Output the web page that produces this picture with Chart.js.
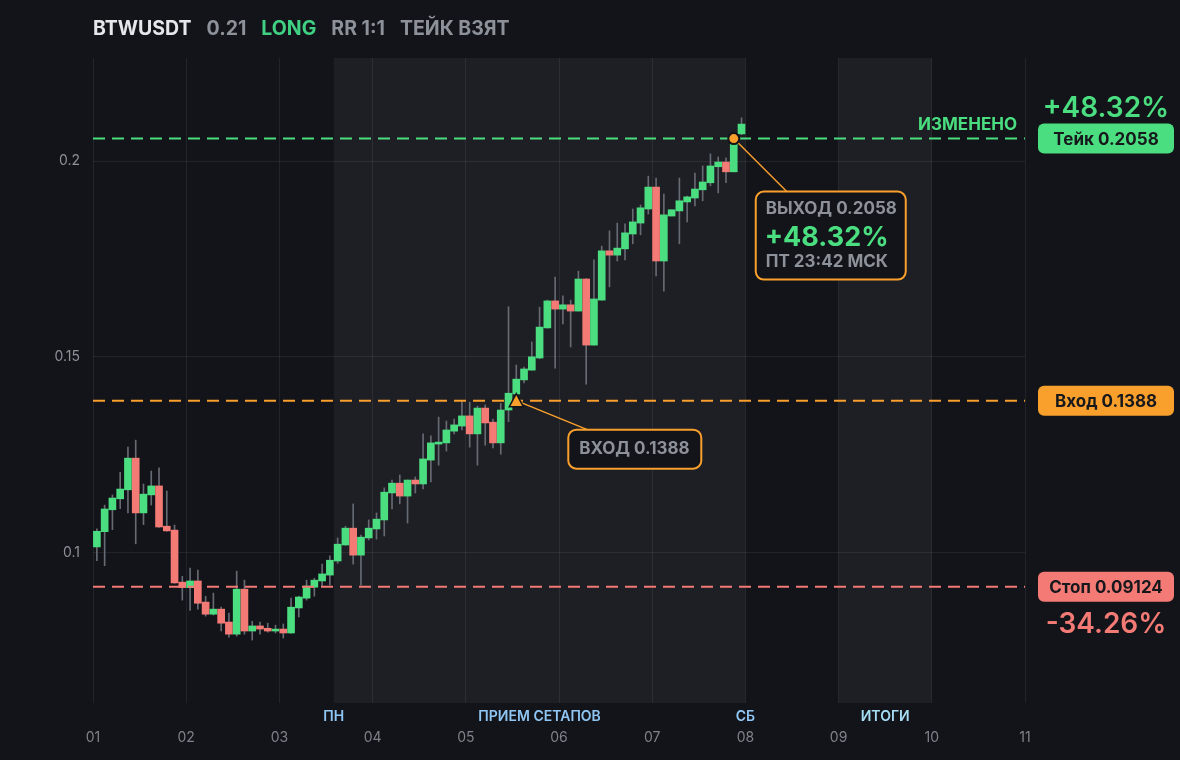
<!DOCTYPE html>
<html lang="ru">
<head>
<meta charset="UTF-8">
<title>BTWUSDT</title>
<script src="https://cdn.jsdelivr.net/npm/chart.js"></script>
<style>
  html, body { margin: 0; padding: 0; background: #131419; }
  canvas { display: block; }
</style>
</head>
<body>
<canvas id="chart" width="1180" height="760"></canvas>
<script>
// 2h candles, 12 per day, starting at day 01
const openP  = [0.1014,0.1053,0.1109,0.1137,0.1160,0.1241,0.1101,0.1147,0.1170,0.1067,0.1057,0.0924,
                0.0910,0.0927,0.0873,0.0842,0.0855,0.0822,0.0791,0.0906,0.0799,0.0812,0.0806,0.0799,
                0.0804,0.0794,0.0858,0.0883,0.0911,0.0927,0.0942,0.0978,0.1019,0.1062,0.0993,0.1037,
                0.1060,0.1083,0.1152,0.1177,0.1144,0.1185,0.1175,0.1236,0.1277,0.1280,0.1310,0.1323,
                0.1349,0.1303,0.1369,0.1333,0.1280,0.1364,0.1405,0.1441,0.1466,0.1497,0.1574,0.1643,
                0.1622,0.1633,0.1617,0.1699,0.1530,0.1645,0.1771,0.1760,0.1776,0.1814,0.1842,0.1878,
                0.1934,0.1745,0.1860,0.1873,0.1896,0.1906,0.1927,0.1945,0.1986,0.1998,0.1973,0.2070];
const highP  = [0.1060,0.1121,0.1147,0.1205,0.1269,0.1287,0.1175,0.1208,0.1216,0.1157,0.1070,0.0939,
                0.0960,0.0955,0.0888,0.0896,0.0860,0.0845,0.0952,0.0929,0.0824,0.0822,0.0819,0.0814,
                0.0817,0.0883,0.0888,0.0929,0.0934,0.0970,0.0991,0.1037,0.1067,0.1124,0.1044,0.1083,
                0.1101,0.1165,0.1185,0.1198,0.1185,0.1193,0.1303,0.1298,0.1346,0.1336,0.1341,0.1387,
                0.1384,0.1374,0.1377,0.1341,0.1381,0.1628,0.1479,0.1474,0.1538,0.1627,0.1645,0.1704,
                0.1656,0.1645,0.1719,0.1700,0.1748,0.1783,0.1822,0.1842,0.1840,0.1878,0.1888,0.1962,
                0.1957,0.1916,0.1876,0.1957,0.1911,0.1970,0.1988,0.2019,0.2011,0.2009,0.2068,0.2111];
const lowP   = [0.0979,0.0966,0.1058,0.1112,0.1101,0.1022,0.1071,0.1121,0.1064,0.1054,0.0921,0.0878,
                0.0852,0.0855,0.0837,0.0840,0.0799,0.0783,0.0786,0.0791,0.0776,0.0791,0.0796,0.0794,
                0.0781,0.0793,0.0835,0.0878,0.0888,0.0913,0.0916,0.0972,0.1018,0.0970,0.0916,0.1032,
                0.1034,0.1042,0.1111,0.1124,0.1075,0.1152,0.1162,0.1180,0.1223,0.1259,0.1303,0.1313,
                0.1269,0.1223,0.1274,0.1267,0.1251,0.1334,0.1405,0.1433,0.1466,0.1495,0.1573,0.1471,
                0.1584,0.1525,0.1617,0.1430,0.1530,0.1645,0.1679,0.1745,0.1748,0.1789,0.1812,0.1865,
                0.1707,0.1668,0.1860,0.1789,0.1845,0.1886,0.1899,0.1937,0.1919,0.1945,0.1973,0.2068];
const closeP = [0.1054,0.1111,0.1139,0.1162,0.1241,0.1101,0.1149,0.1170,0.1065,0.1055,0.0922,0.0910,
                0.0927,0.0870,0.0842,0.0855,0.0819,0.0791,0.0906,0.0799,0.0812,0.0804,0.0799,0.0804,
                0.0794,0.0860,0.0886,0.0914,0.0929,0.0945,0.0980,0.1021,0.1062,0.0993,0.1039,0.1062,
                0.1085,0.1154,0.1177,0.1144,0.1185,0.1175,0.1239,0.1280,0.1282,0.1313,0.1326,0.1349,
                0.1303,0.1369,0.1331,0.1280,0.1364,0.1407,0.1443,0.1469,0.1500,0.1576,0.1643,0.1622,
                0.1633,0.1617,0.1699,0.1530,0.1648,0.1771,0.1760,0.1778,0.1817,0.1845,0.1881,0.1934,
                0.1745,0.1863,0.1876,0.1899,0.1909,0.1929,0.1947,0.1988,0.1998,0.1973,0.2044,0.2095];

const candlesPerDay = 12;
const firstDay = 1;
const xTicks = [1, 2, 3, 4, 5, 6, 7, 8, 9, 10, 11];
const yTicks = [0.1, 0.15, 0.2];

// shaded sessions (in day units) and their captions
const shadeFrom = [3 + 7 / 12, 9];
const shadeTo   = [8, 10];
const captionText = ['ПН', 'ПРИЕМ СЕТАПОВ', 'СБ', 'ИТОГИ'];
const captionAt   = [3 + 7 / 12, (3 + 7 / 12 + 8) / 2, 8, 9.5];

// trade
const entryPrice = 0.1388;
const takePrice = 0.2058;
const stopPrice = 0.09124;
const takePct = '+48.32%';
const stopPct = '-34.26%';
const exitTime = 'ПТ 23:42 МСК';
const entryIdx = 54;
const exitIdx = 82;
const title = ['BTWUSDT', '0.21', 'LONG', 'RR 1:1', 'ТЕЙК ВЗЯТ'];

const GREEN = '#4ade80', RED = '#f47a75', ORANGE = '#f99f2c';
const GRAY = '#8d9199', BG = '#131419', FONT = 'Inter, "Noto Sans", sans-serif';

const candleX = i => firstDay + (i + 0.5) / candlesPerDay;
const bodies = openP.map((o, i) => ({ x: candleX(i), y: [o, closeP[i]] }));
const wicks = lowP.map((l, i) => ({ x: candleX(i), y: [l, highP[i]] }));
const isUp = i => closeP[i] >= openP[i];
const levelLine = v => [{ x: xTicks[0], y: v }, { x: xTicks[xTicks.length - 1], y: v }];

function tag(ctx, x, yc, w, h, bg, text) {
    ctx.fillStyle = bg;
    ctx.beginPath();
    ctx.roundRect(x, yc - h / 2, w, h, 6);
    ctx.fill();
    ctx.fillStyle = '#17181c';
    ctx.font = '700 17px ' + FONT;
    ctx.textAlign = 'center';
    ctx.fillText(text, x + w / 2, yc + 1);
}

function box(ctx, x, y, w, h) {
    ctx.fillStyle = BG;
    ctx.strokeStyle = ORANGE;
    ctx.lineWidth = 2;
    ctx.beginPath();
    ctx.roundRect(x, y, w, h, 8);
    ctx.fill();
    ctx.stroke();
}

const overlay = {
    id: 'overlay',
    beforeDraw(chart) {
        const { ctx, chartArea: a, scales: { x } } = chart;
        ctx.save();
        ctx.fillStyle = BG;
        ctx.fillRect(0, 0, chart.width, chart.height);
        ctx.fillStyle = '#1e1f24';
        shadeFrom.forEach((s, i) => {
            const x0 = x.getPixelForValue(s), x1 = x.getPixelForValue(shadeTo[i]);
            ctx.fillRect(x0, a.top, x1 - x0, a.bottom - a.top);
        });
        ctx.restore();
    },
    afterDraw(chart) {
        const { ctx, chartArea: a, scales: { x, y } } = chart;
        ctx.save();
        ctx.textBaseline = 'middle';

        // title
        const titleColors = ['#e6e7ea', GRAY, '#3fd083', GRAY, GRAY];
        ctx.font = '700 19.5px ' + FONT;
        ctx.textAlign = 'left';
        let tx = 93;
        title.forEach((t, i) => {
            ctx.fillStyle = titleColors[i];
            ctx.fillText(t, tx, 29);
            tx += ctx.measureText(t).width + 15;
        });

        // session captions
        ctx.font = '600 14px ' + FONT;
        ctx.textAlign = 'center';
        captionText.forEach((t, i) => {
            ctx.fillStyle = i === 3 ? '#a6def6' : '#8fc6f4';
            ctx.fillText(t, x.getPixelForValue(captionAt[i]), 717);
        });

        const tpY = y.getPixelForValue(takePrice);
        const enY = y.getPixelForValue(entryPrice);
        const slY = y.getPixelForValue(stopPrice);

        // entry marker + callout
        const ex = x.getPixelForValue(candleX(entryIdx));
        const ebx = ex + 52, eby = enY + 29;
        ctx.strokeStyle = ORANGE;
        ctx.lineWidth = 1.5;
        ctx.beginPath();
        ctx.moveTo(ex, enY);
        ctx.lineTo(ebx + 19, eby);
        ctx.stroke();
        box(ctx, ebx, eby, 133, 39);
        ctx.fillStyle = GRAY;
        ctx.font = '700 17px ' + FONT;
        ctx.textAlign = 'left';
        ctx.fillText('ВХОД ' + entryPrice, ebx + 11, eby + 19);
        ctx.fillStyle = ORANGE;
        ctx.strokeStyle = BG;
        ctx.lineWidth = 1.5;
        ctx.beginPath();
        ctx.moveTo(ex, enY - 7);
        ctx.lineTo(ex + 7, enY + 6);
        ctx.lineTo(ex - 7, enY + 6);
        ctx.closePath();
        ctx.fill();
        ctx.stroke();

        // exit marker + callout
        const xx = x.getPixelForValue(candleX(exitIdx));
        const xbx = xx + 22, xby = tpY + 53;
        ctx.strokeStyle = ORANGE;
        ctx.lineWidth = 1.5;
        ctx.beginPath();
        ctx.moveTo(xx, tpY);
        ctx.lineTo(xbx + 31, xby);
        ctx.stroke();
        box(ctx, xbx, xby, 150, 88);
        ctx.textAlign = 'left';
        ctx.fillStyle = GRAY;
        ctx.font = '700 17px ' + FONT;
        ctx.fillText('ВЫХОД ' + takePrice, xbx + 10, xby + 17);
        ctx.fillStyle = GREEN;
        ctx.font = '700 27px ' + FONT;
        ctx.fillText(takePct, xbx + 9, xby + 46);
        ctx.fillStyle = GRAY;
        ctx.font = '700 17px ' + FONT;
        ctx.fillText(exitTime, xbx + 10, xby + 70);
        ctx.fillStyle = ORANGE;
        ctx.strokeStyle = BG;
        ctx.beginPath();
        ctx.arc(xx, tpY, 5.5, 0, Math.PI * 2);
        ctx.fill();
        ctx.stroke();

        // right side tags
        const rx = a.right + 13;
        ctx.font = '700 17px ' + FONT;
        ctx.textAlign = 'right';
        ctx.fillStyle = GREEN;
        ctx.fillText('ИЗМЕНЕНО', a.right - 8, tpY - 14);
        tag(ctx, rx, tpY, 136, 30, GREEN, 'Тейк ' + takePrice);
        tag(ctx, rx, enY, 136, 30, ORANGE, 'Вход ' + entryPrice);
        tag(ctx, rx, slY, 136, 30, RED, 'Стоп ' + stopPrice);
        ctx.font = '600 28px ' + FONT;
        ctx.textAlign = 'center';
        ctx.fillStyle = GREEN;
        ctx.fillText(takePct, rx + 68, tpY - 30);
        ctx.fillStyle = RED;
        ctx.fillText(stopPct, rx + 68, slY + 38);
        ctx.restore();
    }
};

const dashed = (v, c) => ({
    type: 'line', data: levelLine(v), borderColor: c, borderWidth: 2,
    borderDash: [12, 7], pointRadius: 0, order: -1
});

new Chart(document.getElementById('chart'), {
    type: 'bar',
    data: {
        datasets: [
            {
                data: bodies, grouped: false, barThickness: 7, minBarLength: 1, order: 0,
                backgroundColor: c => isUp(c.dataIndex) ? GREEN : RED, borderWidth: 0
            },
            {
                data: wicks, grouped: false, barThickness: 1, order: 1,
                backgroundColor: '#666a72', borderWidth: 0
            },
            dashed(takePrice, GREEN),
            dashed(entryPrice, ORANGE),
            dashed(stopPrice, RED)
        ]
    },
    options: {
        responsive: false,
        animation: false,
        layout: { padding: { top: 58, right: 155, left: 0, bottom: 0 } },
        plugins: { legend: { display: false }, tooltip: { enabled: false } },
        scales: {
            x: {
                type: 'linear', min: 1, max: 11, offset: false,
                afterBuildTicks: s => { s.ticks = xTicks.map(v => ({ value: v })); },
                afterFit: s => { s.height = 57; },
                grid: { color: 'rgba(255,255,255,0.07)', drawTicks: false, offset: false },
                border: { display: false },
                ticks: {
                    padding: 26, color: '#7e828a', font: { family: FONT, size: 14 },
                    callback: v => String(v).padStart(2, '0')
                }
            },
            y: {
                min: 0.0615, max: 0.2264,
                afterBuildTicks: s => { s.ticks = yTicks.map(v => ({ value: v })); },
                afterFit: s => { s.width = 93; },
                grid: { color: 'rgba(255,255,255,0.07)', drawTicks: false },
                border: { display: false },
                ticks: {
                    padding: 13, color: '#8d9199', font: { family: FONT, size: 14 },
                    callback: v => String(v)
                }
            }
        }
    },
    plugins: [overlay]
});
</script>
</body>
</html>
